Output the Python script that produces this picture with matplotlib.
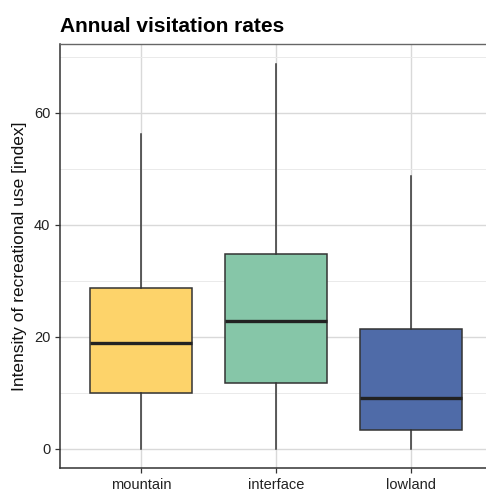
import matplotlib
matplotlib.use("Agg")
import matplotlib.pyplot as plt
from matplotlib.ticker import MultipleLocator

plt.rcParams['font.family'] = ['Liberation Sans', 'DejaVu Sans']

# values
categories = ["mountain", "interface", "lowland"]
whisker_low = [0, 0, 0]
q1 = [10.0, 11.8, 3.4]
median = [18.9, 22.9, 9.1]
q3 = [28.7, 34.8, 21.4]
whisker_high = [56.3, 68.8, 48.8]
colors = ["#FDD36A", "#86C6A8", "#4F6BA8"]

stats = []
for i, name in enumerate(categories):
    stats.append(dict(label=name, whislo=whisker_low[i], q1=q1[i], med=median[i],
                      q3=q3[i], whishi=whisker_high[i], fliers=[]))

fig = plt.figure(figsize=(4.86, 4.93), dpi=100)
ax = fig.add_axes([60 / 486, 25 / 493, 432 / 486, 424 / 493])

bp = ax.bxp(stats, positions=range(len(categories)), widths=0.75, patch_artist=True,
            showcaps=False, showfliers=False,
            boxprops=dict(edgecolor="#333333", linewidth=1.1),
            whiskerprops=dict(color="#333333", linewidth=1.1),
            medianprops=dict(color="#222222", linewidth=2.4))
for patch, c in zip(bp["boxes"], colors):
    patch.set_facecolor(c)

ax.set_xlim(-0.6, 2.6)
ax.set_ylim(-3.45, 72.3)
ax.yaxis.set_major_locator(MultipleLocator(20))
ax.yaxis.set_minor_locator(MultipleLocator(10))
ax.grid(which="major", color="#D9D9D9", linewidth=1.0)
ax.grid(which="minor", axis="y", color="#EAEAEA", linewidth=0.7)
ax.set_axisbelow(True)
ax.tick_params(which="minor", length=0)
ax.tick_params(which="major", length=3.5, width=0.9, color="#333333",
               labelsize=10.5, labelcolor="#222222")

for side in ["left", "bottom"]:
    ax.spines[side].set_color("#333333")
    ax.spines[side].set_linewidth(1.1)
ax.spines["top"].set_color("#666666")
ax.spines["top"].set_linewidth(1.0)
ax.spines["right"].set_visible(False)

ax.set_ylabel("Intensity of recreational use [index]", fontsize=12.5, color="#111111", labelpad=5)
ax.set_title("Annual visitation rates", loc="left", fontsize=15, fontweight="bold", pad=9)

fig.savefig("out.png", dpi=100)
